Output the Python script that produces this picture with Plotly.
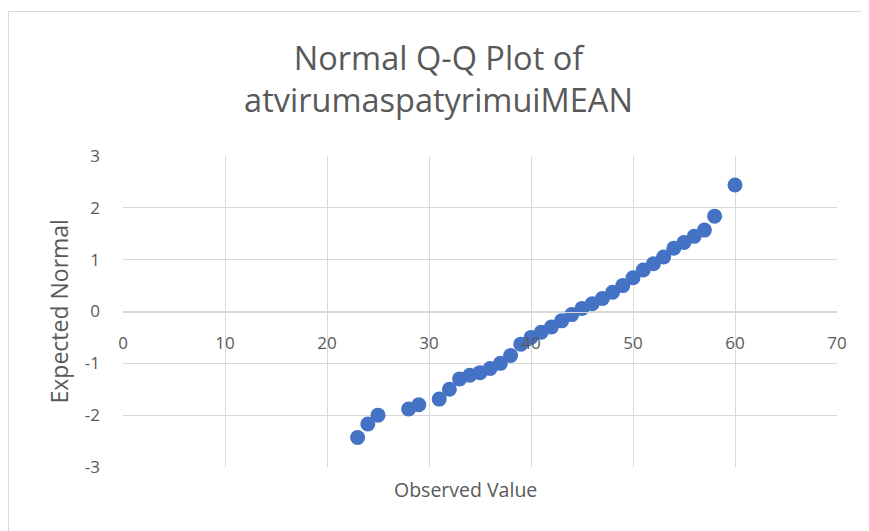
import plotly.graph_objects as go

observed = [23, 24, 25, 28, 29, 31, 32, 33, 34, 35, 36, 37, 38, 39, 40, 41, 42,
            43, 44, 45, 46, 47, 48, 49, 50, 51, 52, 53, 54, 55, 56, 57, 58, 60]
expected = [-2.43, -2.17, -2.0, -1.88, -1.8, -1.69, -1.5, -1.3, -1.23, -1.18,
            -1.1, -1.0, -0.85, -0.63, -0.5, -0.4, -0.3, -0.18, -0.06, 0.06,
            0.15, 0.25, 0.37, 0.5, 0.65, 0.8, 0.92, 1.05, 1.22, 1.33, 1.45,
            1.57, 1.84, 2.44]

x_ticks = [0, 10, 20, 30, 40, 50, 60, 70]
y_ticks = [-3, -2, -1, 0, 1, 2, 3]
y_labels = ["-3", "-2", "-1", "0", "1", "2", "3"]

font = "Open Sans"
grey = "#595959"

# the page body adds an 8px margin, so the figure is sized to fit inside it
W, H = 861, 523
L, R, T, B = 115, 32, 148, 64
pw, ph = W - L - R, H - T - B

fig = go.Figure()
fig.add_trace(go.Scatter(
    x=observed, y=expected, mode="markers",
    marker=dict(color="#4472C4", size=15),
    showlegend=False,
))

fig.update_layout(
    width=W, height=H,
    margin=dict(l=L, r=R, t=T, b=B),
    paper_bgcolor="white", plot_bgcolor="white",
    font=dict(family=font, color=grey, size=16),
    title=dict(text="Normal Q-Q Plot of<br>atvirumaspatyrimuiMEAN",
               x=0.5, xanchor="center", y=1 - 62 / H, yanchor="middle",
               font=dict(size=32.5, color=grey, family=font)),
    xaxis=dict(range=[0, 70], tickvals=x_ticks, showgrid=True,
               gridcolor="#d9d9d9", zeroline=False, showline=True,
               linecolor="#d9d9d9", anchor="free", position=0.5,
               ticks="", ticklabelstandoff=16, layer="above traces",
               tickfont=dict(size=17, color=grey)),
    yaxis=dict(range=[-3, 3], tickvals=y_ticks, ticktext=y_labels,
               showgrid=True, gridcolor="#d9d9d9", zeroline=False, ticks="",
               ticklabelstandoff=22, tickfont=dict(size=17, color=grey)),
    shapes=[dict(type="rect", xref="paper", yref="paper",
                 x0=(0.5 - L) / pw, x1=(W + 20 - L) / pw,
                 y0=-(B + 20) / ph, y1=1 + (T - 3.5) / ph,
                 line=dict(color="#d9d9d9", width=1), layer="below")],
    annotations=[
        dict(text="Observed Value", xref="paper", yref="paper",
             x=0.48, y=-22 / ph, xanchor="center", yanchor="middle",
             showarrow=False, font=dict(size=19.5, color=grey)),
        dict(text="Expected Normal", xref="paper", yref="paper",
             x=(50 - L) / pw, y=0.5, xanchor="center", yanchor="middle",
             textangle=-90, showarrow=False,
             font=dict(size=23, color=grey)),
    ],
)

fig.write_html("out.html")
